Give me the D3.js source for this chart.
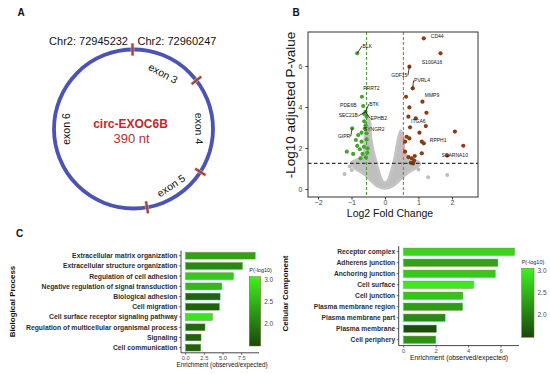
<!DOCTYPE html>
<html><head><meta charset="utf-8">
<script src="https://cdn.jsdelivr.net/npm/d3@7"></script>
<style>body{margin:0;background:#fff} svg{display:block;font-family:"Liberation Sans",Arial,sans-serif}</style>
</head><body><svg id="c" width="550" height="374"></svg>
<script>
// ================= DATA =================
// Panel A : circRNA structure
const junctionAngles = [-90.7, -37.7, 32.7, 80.2];       // back-splice / exon junctions (deg)
const exonNames = ["exon 3", "exon 4", "exon 5", "exon 6"];
const exonLabelAngles = [-62, -0.5, 56.5, 180];
const junctionCoords = ["Chr2: 72945232", "Chr2: 72960247"];
const circName = "circ-EXOC6B";
const circLength = "390 nt";

// Panel B : volcano plot
const upFC = [1.16, 1.66, 0.73, 0.83, 0.63, 1.12, 0.73, 1.24, 0.70, 0.92, 0.75, 1.22, 1.03, 0.65, 0.73, 1.10, 1.16, 0.60, 2.09, 2.34, 1.86, 1.10, 0.60, 0.80, 0.87, 0.77, 0.89, 0.70, 0.84];
const upP  = [7.35, 6.62, 5.97, 4.91, 4.50, 4.26, 3.98, 3.72, 3.53, 3.45, 3.01, 3.07, 2.75, 2.55, 2.47, 2.31, 2.23, 2.31, 2.80, 2.11, 1.63, 1.74, 1.82, 1.50, 1.38, 1.28, 1.61, 1.56, 1.25];
const paleFC = [0.50, 0.53, 0.55];
const paleP  = [2.59, 2.06, 1.65];
const downFC = [-0.83, -0.69, -0.65, -0.58, -0.62, -0.55, -0.62, -0.58, -0.60, -0.98, -0.70, -0.55, -0.80, -0.87, -0.70, -0.55, -0.83, -0.63, -0.75, -0.52, -1.14, -0.95, -0.67, -0.53, -0.73, -0.57];
const downP  = [6.62, 4.50, 4.05, 3.77, 3.66, 3.53, 3.30, 3.10, 2.96, 2.96, 2.75, 2.72, 2.63, 2.39, 2.31, 2.42, 2.10, 2.06, 1.94, 1.98, 1.82, 1.71, 1.71, 1.77, 1.50, 1.54];
// outline of the dense non-significant cloud (log2FC, -log10 p)
const nsOutlineFC = [0, -0.25, -0.45, -0.65, -0.9, -1.0, -0.75, -0.62, -0.6, -0.5, -0.45, -0.42, -0.25, -0.05, 0.05, 0.25, 0.40, 0.47, 0.55, 0.6, 0.85, 1.05, 0.95, 0.7, 0.45, 0.25];
const nsOutlineP  = [0.02, 0.15, 0.45, 0.75, 1.0, 1.3, 1.5, 1.8, 2.6, 3.4, 3.3, 2.5, 1.25, 0.35, 0.35, 1.25, 2.5, 2.85, 2.5, 1.7, 1.45, 1.25, 1.05, 0.8, 0.45, 0.15];
const nsFC = [-1.21, -0.99, 1.29, 1.86, -1.05, 1.0];
const nsP  = [0.73, 0.93, 0.57, 0.68, 1.1, 0.95];
const fcCut = 0.55, pCut = 1.25;
const xTicksB = [-2, -1, 0, 1, 2];
const yTicksB = [0, 2, 4, 6];
// gene labels: [name, group, point index]
const geneNames = ["CD44", "S100A16", "GDF15", "PVRL4", "MMP9", "ITGA6", "RPPH1", "SCARNA10", "BLK", "PRRT2", "PDE6B", "SEC21B", "BTK", "EPHB2", "SYNGR2", "GIPR"];
const geneGroup = ["up","up","up","up","up","up","up","up","down","down","down","down","down","down","down","down"];
const genePoint = [0, 1, 2, 3, 5, 9, 18, 20, 0, 1, 2, 3, 3, 3, 8, 9];

// Panel C : GO enrichment
const bpTerms = ["Extracellular matrix organization", "Extracellular structure organization", "Regulation of cell adhesion", "Negative regulation of signal transduction", "Biological adhesion", "Cell migration", "Cell surface receptor signaling pathway", "Regulation of multicellular organismal process", "Signaling", "Cell communication"];
const bpEnrich = [9.3, 7.58, 6.38, 4.82, 4.6, 4.5, 3.56, 2.58, 2.05, 2.0];
const bpLogP   = [2.35, 2.1, 2.7, 2.55, 1.75, 1.75, 2.95, 1.8, 1.75, 1.75];
const bpTicks = [0, 2.5, 5, 7.5];
const ccTerms = ["Receptor complex", "Adherens junction", "Anchoring junction", "Cell surface", "Cell junction", "Plasma membrane region", "Plasma membrane part", "Plasma membrane", "Cell periphery"];
const ccEnrich = [6.83, 5.8, 5.64, 4.3, 3.64, 3.62, 2.55, 2.01, 1.97];
const ccLogP   = [2.8, 2.35, 2.7, 3.0, 2.65, 2.3, 2.1, 1.55, 2.2];
const ccTicks = [0, 2, 4, 6];
const legendTicks = [2.0, 2.5, 3.0];

// ================= DRAW =================
const svg = d3.select("#c");
const F = '"Liberation Sans",Arial,sans-serif';
const panelLabel = (t, x, y) => svg.append("text").attr("x", x).attr("y", y).text(t)
  .attr("font-size", 10).attr("font-weight", "bold").attr("fill", "#111");
panelLabel("A", 17.5, 15.5); panelLabel("B", 292.5, 15.5); panelLabel("C", 16, 237);

// ---------- Panel A ----------
{
  const cx = 133.5, cy = 129, r = 79.5;
  const gA = svg.append("g");
  gA.append("circle").attr("cx", cx).attr("cy", cy).attr("r", r)
    .attr("fill", "none").attr("stroke", "#4b53b4").attr("stroke-width", 3.8);
  const rad = d => d * Math.PI / 180;
  gA.selectAll("line.j").data(junctionAngles).join("line").attr("class", "j")
    .attr("x1", d => cx + (r - 6.5) * Math.cos(rad(d))).attr("y1", d => cy + (r - 6.5) * Math.sin(rad(d)))
    .attr("x2", d => cx + (r + 6.5) * Math.cos(rad(d))).attr("y2", d => cy + (r + 6.5) * Math.sin(rad(d)))
    .attr("stroke", "#f2b3c6").attr("stroke-width", 4).attr("opacity", 0.6);
  gA.selectAll("line.k").data(junctionAngles).join("line").attr("class", "k")
    .attr("x1", d => cx + (r - 6) * Math.cos(rad(d))).attr("y1", d => cy + (r - 6) * Math.sin(rad(d)))
    .attr("x2", d => cx + (r + 6) * Math.cos(rad(d))).attr("y2", d => cy + (r + 6) * Math.sin(rad(d)))
    .attr("stroke", "#94492a").attr("stroke-width", 2.2);
  const lr = [63, 65.5, 68, 67];
  gA.selectAll("text.ex").data(exonNames).join("text").attr("class", "ex")
    .attr("transform", (d, i) => {
      const a = exonLabelAngles[i];
      const x = cx + lr[i] * Math.cos(rad(a)), y = cy + lr[i] * Math.sin(rad(a));
      const rot = (a > 20 && a < 160) ? a - 90 : a + 90;
      return `translate(${x},${y}) rotate(${rot})`;
    })
    .attr("text-anchor", "middle").attr("dy", "0.35em")
    .attr("font-size", 10.5).attr("fill", "#111").text(d => d);
  gA.append("text").attr("x", 128).attr("y", 45).attr("text-anchor", "end")
    .attr("font-size", 11).attr("fill", "#111").text(junctionCoords[0]);
  gA.append("text").attr("x", 137.5).attr("y", 45).attr("text-anchor", "start")
    .attr("font-size", 11).attr("fill", "#111").text(junctionCoords[1]);
  gA.append("text").attr("x", 130.5).attr("y", 128).attr("text-anchor", "middle")
    .attr("font-size", 12).attr("font-weight", "bold").attr("fill", "#c4282c").text(circName);
  gA.append("text").attr("x", 131.5).attr("y", 142.5).attr("text-anchor", "middle")
    .attr("font-size", 13).attr("fill", "#b8302f").text(circLength);
}

// ---------- Panel B ----------
{
  const x = d3.scaleLinear().domain([-2.3, 2.78]).range([308, 478]);
  const y = d3.scaleLinear().domain([-0.39, 7.66]).range([197, 32]);
  const g = svg.append("g");
  // non-significant cloud
  const cloud = nsOutlineFC.map((v, i) => [x(v), y(nsOutlineP[i])]);
  g.append("path").attr("d", d3.line().curve(d3.curveCatmullRomClosed)(cloud))
    .attr("fill", "#bfbfbf").attr("stroke", "#c4c4c4").attr("stroke-width", 2.5).attr("stroke-linejoin", "round");
  g.selectAll("circle.ns").data(nsFC).join("circle").attr("class", "ns")
    .attr("cx", d => x(d)).attr("cy", (d, i) => y(nsP[i])).attr("r", 2).attr("fill", "#bdbdbd");
  // thresholds
  g.append("line").attr("x1", x(-fcCut)).attr("x2", x(-fcCut)).attr("y1", 32).attr("y2", 197)
    .attr("stroke", "#3f9a2a").attr("stroke-width", 1).attr("stroke-dasharray", "3,2");
  g.append("line").attr("x1", x(fcCut)).attr("x2", x(fcCut)).attr("y1", 32).attr("y2", 197)
    .attr("stroke", "#c0583f").attr("stroke-width", 1).attr("stroke-dasharray", "3,2");
  // points
  g.selectAll("circle.pale").data(paleFC).join("circle").attr("class", "pale")
    .attr("cx", d => x(d)).attr("cy", (d, i) => y(paleP[i])).attr("r", 2).attr("fill", "#f2a3b3");
  g.selectAll("circle.dn").data(downFC).join("circle").attr("class", "dn")
    .attr("cx", d => x(d)).attr("cy", (d, i) => y(downP[i])).attr("r", 2.1).attr("fill", "#45a52c");
  g.selectAll("circle.up").data(upFC).join("circle").attr("class", "up")
    .attr("cx", d => x(d)).attr("cy", (d, i) => y(upP[i])).attr("r", 2.1).attr("fill", "#8c3c12");
  g.append("line").attr("x1", 308).attr("x2", 478).attr("y1", y(pCut)).attr("y2", y(pCut))
    .attr("stroke", "#333").attr("stroke-width", 1.1).attr("stroke-dasharray", "3.5,2.5");
  // labels (label placement offsets in data units)
  const labelDX = [0.21, -0.56, -0.06, 0.04, 0.07, -0.14, -0.75, -0.17, 0.16, 0.04, -0.2, -0.23, 0.11, 0.15, -0.03, -0.06];
  const labelDY = [0.04, -0.5, -0.51, 0.31, 0.23, -0.23, -0.51, -0.09, 0.28, 0.33, -0.05, -0.28, 0.29, -0.40, -0.13, -0.47];
  const labelAnchor = ["start","start","end","start","start","start","start","start","start","start","end","end","start","start","start","end"];
  const leader = [0,0,1,1,0,0,0,0,1,0,0,1,1,1,0,1];
  geneNames.forEach((name, i) => {
    const px = geneGroup[i] === "up" ? upFC[genePoint[i]] : downFC[genePoint[i]];
    const py = geneGroup[i] === "up" ? upP[genePoint[i]] : downP[genePoint[i]];
    const lx = px + labelDX[i], ly = py + labelDY[i];
    if (leader[i]) {
      g.append("line").attr("x1", x(px)).attr("y1", y(py))
        .attr("x2", x(lx) + (labelAnchor[i] === "end" ? 0.5 : -0.5)).attr("y2", y(ly) - 1.5)
        .attr("stroke", "#111").attr("stroke-width", 0.8);
    }
    g.append("text").attr("x", x(lx)).attr("y", y(ly)).attr("text-anchor", labelAnchor[i])
      .attr("font-size", 5).attr("fill", "#111").text(name);
  });
  // frame + axes
  g.append("rect").attr("x", 308).attr("y", 32).attr("width", 170).attr("height", 165)
    .attr("fill", "none").attr("stroke", "#333").attr("stroke-width", 1);
  const ax = g.append("g").attr("transform", "translate(0,197)")
    .call(d3.axisBottom(x).tickValues(xTicksB).tickSize(2.5).tickFormat(d3.format("d")));
  const ay = g.append("g").attr("transform", "translate(308,0)")
    .call(d3.axisLeft(y).tickValues(yTicksB).tickSize(2.5).tickFormat(d3.format("d")));
  [ax, ay].forEach(a => {
    a.select(".domain").remove();
    a.selectAll("line").attr("stroke", "#333");
    a.selectAll("text").attr("font-size", 7).attr("fill", "#444").attr("font-family", F);
  });
  ax.selectAll("text").attr("y", 3).attr("dy", "0.71em");
  g.append("text").attr("x", 390).attr("y", 217).attr("text-anchor", "middle")
    .attr("font-size", 10.5).attr("fill", "#111").text("Log2 Fold Change");
  g.append("text").attr("transform", "translate(294.5,105) rotate(-90)").attr("text-anchor", "middle")
    .attr("font-size", 13.5).attr("fill", "#111").text("-Log10 adjusted P-value");
}

// ---------- Panel C ----------
const color = d3.scaleLinear().domain([1.5, 3.06]).range(["#19480b", "#3ff020"]);
function barPanel(c) {
  const g = svg.append("g");
  const yb = d3.scaleBand().domain(c.terms).range(c.yRange).paddingInner(0.35).paddingOuter(0.175);
  const x = d3.scaleLinear().domain([0, c.ref]).range([c.x0, c.xRef]);
  // soft halo
  g.selectAll("rect.h").data(c.terms).join("rect").attr("class", "h")
    .attr("x", x(0) - 1.5).attr("y", d => yb(d) - 1.5).attr("height", yb.bandwidth() + 3)
    .attr("width", (d, i) => x(c.vals[i]) - x(0) + 4).attr("fill", "#e3fcf8");
  g.selectAll("rect.b").data(c.terms).join("rect").attr("class", "b")
    .attr("x", x(0)).attr("y", d => yb(d)).attr("height", yb.bandwidth())
    .attr("width", (d, i) => x(c.vals[i]) - x(0))
    .attr("fill", (d, i) => color(c.logp[i])).attr("stroke", "#7f6c22").attr("stroke-width", 0.4);
  // axes
  g.append("line").attr("x1", c.axisX).attr("x2", c.axisX).attr("y1", c.yRange[0]).attr("y2", c.axisY)
    .attr("stroke", "#333").attr("stroke-width", 0.9);
  g.append("line").attr("x1", c.axisX).attr("x2", c.xEnd).attr("y1", c.axisY).attr("y2", c.axisY)
    .attr("stroke", "#333").attr("stroke-width", 0.9);
  g.selectAll("line.yt").data(c.terms).join("line").attr("class", "yt")
    .attr("x1", c.axisX - 2).attr("x2", c.axisX).attr("y1", d => yb(d) + yb.bandwidth() / 2).attr("y2", d => yb(d) + yb.bandwidth() / 2)
    .attr("stroke", "#333").attr("stroke-width", 0.7);
  g.selectAll("text.yl").data(c.terms).join("text").attr("class", "yl")
    .attr("x", c.axisX - 3.5).attr("y", d => yb(d) + yb.bandwidth() / 2).attr("dy", "0.35em")
    .attr("text-anchor", "end").attr("font-size", c.fs).attr("font-weight", "bold").attr("fill", "#2e2e2e").text(d => d);
  g.selectAll("line.xt").data(c.ticks).join("line").attr("class", "xt")
    .attr("x1", d => x(d)).attr("x2", d => x(d)).attr("y1", c.axisY).attr("y2", c.axisY + 2)
    .attr("stroke", "#333").attr("stroke-width", 0.7);
  g.selectAll("text.xl").data(c.ticks).join("text").attr("class", "xl")
    .attr("x", d => x(d)).attr("y", c.axisY + 7).attr("text-anchor", "middle")
    .attr("font-size", 5.8).attr("fill", "#4d4d4d").text(c.tickFmt);
  g.append("text").attr("x", c.titleX).attr("y", c.axisY + 14).attr("text-anchor", "middle")
    .attr("font-size", c.tfs).attr("fill", "#111").text("Enrichment (observed/expected)");
  g.append("text").attr("transform", `translate(${c.sideX},${c.sideY}) rotate(-90)`).attr("text-anchor", "middle")
    .attr("font-size", 8).attr("font-weight", "bold").attr("fill", "#111").text(c.side);
  // legend
  const ly = d3.scaleLinear().domain([1.5, 3.06]).range([c.legB, c.legT]);
  const gid = "grad" + c.id;
  const grad = svg.append("defs").append("linearGradient").attr("id", gid)
    .attr("x1", 0).attr("y1", 1).attr("x2", 0).attr("y2", 0);
  grad.append("stop").attr("offset", 0).attr("stop-color", color(1.5));
  grad.append("stop").attr("offset", 0.5).attr("stop-color", color(2.28));
  grad.append("stop").attr("offset", 1).attr("stop-color", color(3.06));
  g.append("rect").attr("x", c.legX).attr("y", c.legT).attr("width", c.legW).attr("height", c.legB - c.legT)
    .attr("fill", `url(#${gid})`).attr("stroke", "#7f6c22").attr("stroke-width", 0.5);
  g.append("text").attr("x", c.legX).attr("y", c.legT - 4.5).attr("font-size", 5.5).attr("fill", "#222").text("P(-log10)");
  g.selectAll("text.lt").data(legendTicks).join("text").attr("class", "lt")
    .attr("x", c.legX + c.legW + 3.5).attr("y", d => ly(d)).attr("dy", "0.35em")
    .attr("font-size", 6.5).attr("fill", "#4d4d4d").text(d => d.toFixed(1));
}
barPanel({ id: "bp", terms: bpTerms, vals: bpEnrich, logp: bpLogP, ticks: bpTicks, tickFmt: d => d.toFixed(1),
  yRange: [250.6, 352.8], ref: 7.5, x0: 185.7, xRef: 241.7, axisX: 181, axisY: 352.8, xEnd: 259,
  fs: 6.8, tfs: 6.3, titleX: 222, side: "Biological Process", sideX: 14.5, sideY: 301.5,
  legX: 249.3, legW: 11.4, legT: 276.7, legB: 346 });
barPanel({ id: "cc", terms: ccTerms, vals: ccEnrich, logp: ccLogP, ticks: ccTicks, tickFmt: d => d3.format("d")(d),
  yRange: [246.2, 345.2], ref: 6, x0: 403.7, xRef: 501, axisX: 398.7, axisY: 345.6, xEnd: 519,
  fs: 6.7, tfs: 6.8, titleX: 459, side: "Cellular Component", sideX: 288, sideY: 293.5,
  legX: 521.7, legW: 12.3, legT: 268.3, legB: 337.3 });
</script></body></html>
